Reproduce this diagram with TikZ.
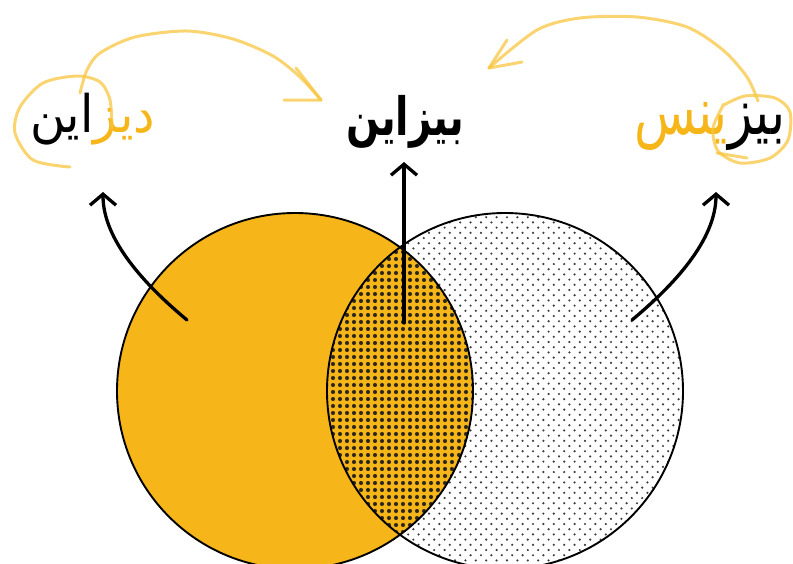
\documentclass[tikz,border=0pt]{standalone}
\usepackage{fontspec}
\usepackage{graphicx}
\usetikzlibrary{arrows.meta}
\TeXXeTstate=1
\newfontfamily\fa[Script=Arabic]{DejaVu Sans}
\definecolor{vorange}{HTML}{F6B619}
\definecolor{swooshc}{HTML}{F7C640}
\definecolor{dotgray}{HTML}{3C3C3C}
\definecolor{dotdark}{HTML}{2A261E}
\newcommand{\rtl}[1]{\hbox{\fa\beginR #1\endR}}
\begin{document}
\begin{tikzpicture}[x=1pt,y=-1pt,
  ring/.style={draw=black, line width=1.9pt},
  blk/.style={draw=black, line width=3.3pt, line cap=round, -{Straight Barb[length=11pt,width=26pt]}},
  swoosh/.style={draw=swooshc, line width=3pt, line cap=round, line join=round, opacity=0.75},
  word/.style={inner sep=0pt, anchor=north west}]
\useasboundingbox (0,0) rectangle (793,563);
\clip (0,0) rectangle (793,563);
\coordinate (cL) at (295,391);
\coordinate (cR) at (505,391);
% circles
\fill[vorange] (cL) circle (178);
\begin{scope}
  \clip (cR) circle (178);
  \fill[white] (cR) circle (178);
  \fill[dotgray] \foreach \i in {0,...,34} {\foreach \j in {0,...,68} {({325+\i*10.4+mod(\j,2)*5.2},{212+\j*5.2}) circle (1.2)}};
\end{scope}
\begin{scope}
  \clip (cL) circle (178);
  \clip (cR) circle (178);
  \fill[vorange] (cR) circle (178);
  \fill[dotdark] \foreach \i in {0,...,22} {\foreach \j in {0,...,43} {({326+\i*7},{245+\j*7}) circle (2.05)}};
\end{scope}
\draw[ring] (cL) circle (178);
\draw[ring] (cR) circle (178);
% texts
\node[word] (design) at (30,93) {\resizebox*{125pt}{52pt}{\hbox{\rtl{این}\textcolor{vorange}{\rtl{دیز}}}}};
\node[word] (bizain) at (346,95) {\resizebox*{118pt}{53pt}{\hbox{\fa\bfseries\beginR بیزاین\endR}}};
\node[word] (business) at (634,102) {\resizebox*{151pt}{48pt}{\hbox{\textcolor{vorange}{\rtl{ینس}}\rtl{بیز}}}};
% black arrows
\coordinate (sL) at (187,320); \coordinate (tL) at (103,192);
\coordinate (sC) at (404,323); \coordinate (tC) at (404,162);
\coordinate (sR) at (632,320); \coordinate (tR) at (716,192);
\draw[blk] (sL) .. controls (145,285) and (103,240) .. (tL);
\draw[blk] (sC) -- (tC);
\draw[blk] (sR) .. controls (674,285) and (716,240) .. (tR);
% left hand-drawn swoosh
\draw[swoosh] plot[smooth] coordinates {(112,128) (110,100) (100,82) (77,76) (43,83) (20,107) (15,133) (33,160) (70,167)};
\draw[swoosh] plot[smooth] coordinates {(80,93) (87,70) (100,53) (135,37) (187,31) (233,39) (273,56) (300,77) (321,100)};
\coordinate (aL) at (321,100);
\draw[swoosh] (296,68) -- (aL) -- (284,100);
% right hand-drawn swoosh
\draw[swoosh] plot[smooth] coordinates {(758,101) (747,77) (723,50) (687,27) (637,17) (580,18) (537,30) (489,68)};
\coordinate (aR) at (489,68);
\draw[swoosh] (507,40) -- (aR) -- (522,62);
\draw[swoosh] plot[smooth] coordinates {(722,106) (745,96) (775,98) (790,112) (788,140) (770,158) (740,163) (718,151) (713,128) (724,104)};
\draw[swoosh] (717,153) -- (747,158);
\end{tikzpicture}
\end{document}
